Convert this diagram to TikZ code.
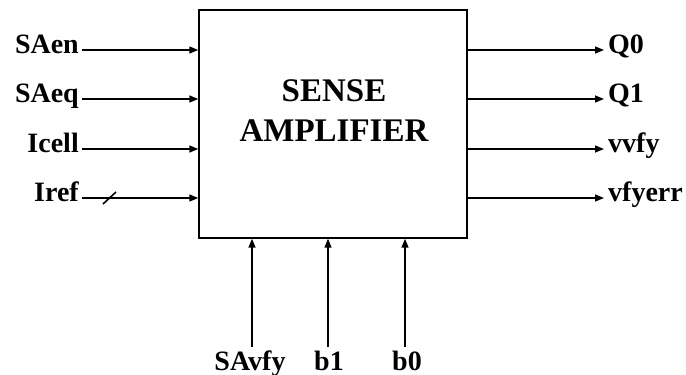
\documentclass[tikz,border=0pt]{standalone}
\usepackage{fontspec}
\setmainfont{Liberation Serif}
\usetikzlibrary{arrows.meta}
\begin{document}
\begin{tikzpicture}[x=1pt,y=-1pt,
  sig/.style={font=\fontsize{28}{30}\selectfont\bfseries, inner sep=0pt},
  wire/.style={line width=1.5pt, -{Triangle[length=9pt,width=7pt]}},
  blk/.style={draw, line width=1.4pt, minimum width=268pt, minimum height=228pt, inner sep=0pt}]
\useasboundingbox (0,0) rectangle (686,375);
\node[blk] (box) at (333,124) {};
\node[font=\fontsize{33}{40}\selectfont\bfseries, align=center, inner sep=0pt] (title) at (334,111) {SENSE\\AMPLIFIER};
% left inputs
\node[sig, anchor=base east] (saen) at (79,53) {SAen};
\node[sig, anchor=base east] (saeq) at (79,102) {SAeq};
\node[sig, anchor=base east] (icell) at (79,152) {Icell};
\node[sig, anchor=base east] (iref) at (79,201) {Iref};
\coordinate (l1) at (82,50);
\coordinate (l2) at (82,99);
\coordinate (l3) at (82,149);
\coordinate (l4) at (82,198);
\draw[wire] (l1) -- (l1 -| box.west);
\draw[wire] (l2) -- (l2 -| box.west);
\draw[wire] (l3) -- (l3 -| box.west);
\draw[wire] (l4) -- (l4 -| box.west);
\coordinate (s1) at (103,204);
\coordinate (s2) at (116,192);
\draw[line width=1.6pt] (s1) -- (s2);
% right outputs
\coordinate (r1) at (604,50);
\coordinate (r2) at (604,99);
\coordinate (r3) at (604,149);
\coordinate (r4) at (604,198);
\draw[wire] (r1 -| box.east) -- (r1);
\draw[wire] (r2 -| box.east) -- (r2);
\draw[wire] (r3 -| box.east) -- (r3);
\draw[wire] (r4 -| box.east) -- (r4);
\node[sig, anchor=base west] (q0) at (608,53) {Q0};
\node[sig, anchor=base west] (q1) at (608,102) {Q1};
\node[sig, anchor=base west] (vvfy) at (608,152) {vvfy};
\node[sig, anchor=base west] (vfyerr) at (608,201) {vfyerr};
% bottom inputs
\coordinate (b1) at (252,347);
\coordinate (b2) at (328,347);
\coordinate (b3) at (405,347);
\draw[wire] (b1) -- (b1 |- box.south);
\draw[wire] (b2) -- (b2 |- box.south);
\draw[wire] (b3) -- (b3 |- box.south);
\node[sig, anchor=base] (savfy) at (250,370) {SAvfy};
\node[sig, anchor=base] (bb1) at (329,370) {b1};
\node[sig, anchor=base] (bb0) at (407,370) {b0};
\end{tikzpicture}
\end{document}
